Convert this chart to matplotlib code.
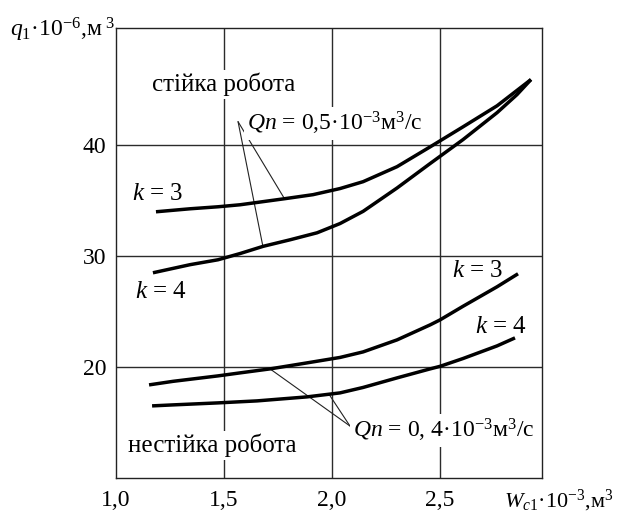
import numpy as np
import matplotlib
matplotlib.use("Agg")
import matplotlib.pyplot as plt

plt.rcParams['font.family'] = ['Liberation Serif', 'DejaVu Serif']
plt.rcParams['mathtext.fontset'] = 'custom'
plt.rcParams['mathtext.rm'] = 'Liberation Serif'
plt.rcParams['mathtext.it'] = 'Liberation Serif:italic'
plt.rcParams['mathtext.bf'] = 'Liberation Serif:bold'

# Data
# Qn = 0.5e-3, k = 3
x_q05_k3 = [1.185, 1.343, 1.472, 1.574, 1.782, 1.912, 2.037, 2.144, 2.301, 2.454, 2.606, 2.764, 2.921]
y_q05_k3 = [33.96, 34.23, 34.41, 34.59, 35.14, 35.50, 36.05, 36.67, 38.02, 39.80, 41.60, 43.50, 45.86]
# Qn = 0.5e-3, k = 4
x_q05_k4 = [1.171, 1.343, 1.472, 1.574, 1.681, 1.806, 1.931, 2.037, 2.144, 2.301, 2.454, 2.606, 2.764, 2.856, 2.921]
y_q05_k4 = [28.47, 29.20, 29.64, 30.20, 30.85, 31.44, 32.07, 32.90, 34.00, 36.10, 38.30, 40.45, 42.88, 44.50, 45.86]
# Qn = 0.4e-3, k = 3
x_q04_k3 = [1.153, 1.264, 1.472, 1.574, 1.713, 1.884, 2.037, 2.144, 2.301, 2.454, 2.500, 2.606, 2.764, 2.861]
y_q04_k3 = [18.38, 18.70, 19.19, 19.46, 19.82, 20.36, 20.85, 21.35, 22.43, 23.78, 24.23, 25.45, 27.21, 28.38]
# Qn = 0.4e-3, k = 4
x_q04_k4 = [1.167, 1.264, 1.472, 1.653, 1.884, 2.037, 2.144, 2.301, 2.454, 2.500, 2.606, 2.764, 2.847]
y_q04_k4 = [16.49, 16.58, 16.76, 16.94, 17.30, 17.66, 18.15, 19.01, 19.82, 20.05, 20.75, 21.89, 22.61]

x_ticks = [1.0, 1.5, 2.0, 2.5]
x_tick_labels = ['1,0', '1,5', '2,0', '2,5']
y_ticks = [20, 30, 40]
y_tick_labels = ['20', '30', '40']

fig = plt.figure(figsize=(6.18, 5.14), dpi=100)
ax = fig.add_axes([116/618, 1-478/514, (542-116)/618, (478-28)/514])
ax.set_xlim(1.0, 2.972)
ax.set_ylim(10.0, 50.5)

for xv in x_ticks[1:]:
    ax.axvline(xv, color='#2b2b2b', lw=1.0, zorder=1)
for yv in y_ticks:
    ax.axhline(yv, color='#2b2b2b', lw=1.0, zorder=1)

lw = 2.5
for xs, ys in [(x_q05_k3, y_q05_k3), (x_q05_k4, y_q05_k4),
               (x_q04_k3, y_q04_k3), (x_q04_k4, y_q04_k4)]:
    ax.plot(xs, ys, color='black', lw=lw, solid_capstyle='butt',
            solid_joinstyle='round', zorder=3)

ax.set_xticks(x_ticks)
ax.set_xticklabels(x_tick_labels, fontsize=17)
ax.set_yticks(y_ticks)
ax.set_yticklabels(y_tick_labels, fontsize=17)
ax.tick_params(length=0)
ax.tick_params(axis='x', pad=9)
ax.tick_params(axis='y', pad=7)
for s in ax.spines.values():
    s.set_linewidth(1.0)
    s.set_color('#222222')

wb = dict(facecolor='white', edgecolor='none', pad=2)
fs = 18

ax.text(1.5, 45.4, 'стійка робота', ha='center', va='center', fontsize=fs,
        bbox=wb, zorder=4)
ax.text(1.056, 12.34, 'нестійка робота', ha='left', va='baseline', fontsize=fs,
        bbox=wb, zorder=4)
ax.text(1.606, 41.26, r'$Qn$ = 0,5·$10^{-3}$м$^{3}$/с', ha='left', va='baseline',
        fontsize=17, bbox=wb, zorder=4)
ax.text(2.097, 13.6, r'$Qn$ = 0, 4·$10^{-3}$м$^{3}$/с', ha='left', va='baseline',
        fontsize=17, bbox=wb, zorder=4)
ax.text(1.074, 35.05, r'$k$ = 3', ha='left', va='baseline', fontsize=fs, zorder=4)
ax.text(1.088, 26.2, r'$k$ = 4', ha='left', va='baseline', fontsize=fs, zorder=4)
ax.text(2.556, 28.1, r'$k$ = 3', ha='left', va='baseline', fontsize=fs, zorder=4)
ax.text(2.662, 23.06, r'$k$ = 4', ha='left', va='baseline', fontsize=fs, zorder=4)

# leader lines
apex_up = (1.565, 42.07)
for xs, ys, xt in [(x_q05_k3, y_q05_k3, 1.78), (x_q05_k4, y_q05_k4, 1.68)]:
    ax.annotate('', xy=(xt, np.interp(xt, xs, ys)), xytext=apex_up,
                arrowprops=dict(arrowstyle='-', lw=0.8, color='#222222',
                                shrinkA=0, shrinkB=0), zorder=2)
apex_low = (2.083, 14.68)
for xs, ys, xt in [(x_q04_k3, y_q04_k3, 1.713), (x_q04_k4, y_q04_k4, 1.986)]:
    ax.annotate('', xy=(xt, np.interp(xt, xs, ys)), xytext=apex_low,
                arrowprops=dict(arrowstyle='-', lw=0.8, color='#222222',
                                shrinkA=0, shrinkB=0), zorder=2)

fig.text(10/618, 1-37/514, r'$q_1$·10$^{-6}$,м$^{\ 3}$', fontsize=17,
         ha='left', va='baseline')
fig.text(614/618, 1-507/514, r'$W_{c1}$·10$^{-3}$,м$^{3}$', fontsize=16,
         ha='right', va='baseline')

fig.savefig('out.png', dpi=100)
